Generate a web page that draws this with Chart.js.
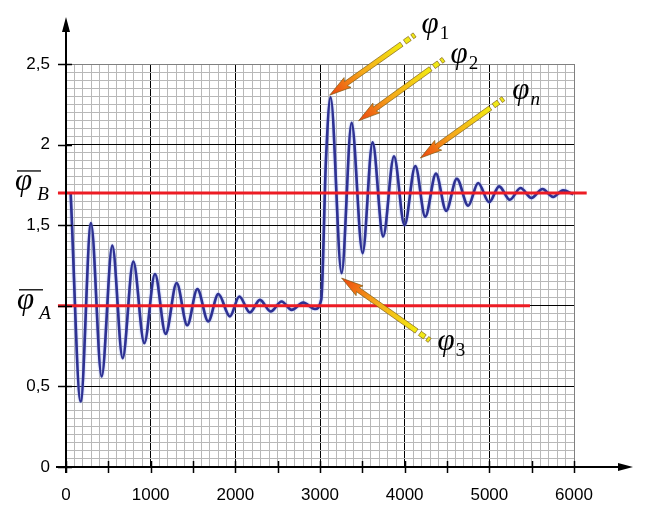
<!DOCTYPE html>
<html>
<head>
<meta charset="UTF-8">
<title>phi</title>
<script src="https://cdn.jsdelivr.net/npm/chart.js"></script>
<style>
html,body{margin:0;padding:0;background:#fff;}
#wrap{width:657px;height:525px;}
</style>
</head>
<body>
<div id="wrap"><canvas id="myChart" width="657" height="525"></canvas></div>
<script>
// curve: extreme points
const xValues = [55,173,295,421,547,669,795,925,1051,1177,1307,1432,1551,1680,1799,1936,2047,2172,2290,2417,2547,2665,2802,2940,3015,3070,3125,3255,3373,3503,3621,3746,3874,3998,4126,4243,4370,4490,4616,4750,4868,4998,5116,5242,5368,5498,5628,5753,5871,5990];
const yValues = [1.70,0.406,1.514,0.561,1.373,0.675,1.275,0.768,1.197,0.826,1.141,0.879,1.104,0.903,1.073,0.934,1.058,0.958,1.037,0.965,1.027,0.975,1.020,0.980,1.04,1.90,2.294,1.203,2.135,1.327,2.014,1.430,1.928,1.500,1.867,1.553,1.820,1.589,1.788,1.621,1.762,1.642,1.741,1.658,1.731,1.669,1.725,1.675,1.716,1.692];

// mean levels
const phiA = 1.0;
const phiB = 1.7;
const lineAx = [-95, 5480];
const lineBx = [-95, 6150];

const xTickValues = [0,1000,2000,3000,4000,5000,6000];
const xTickLabels = ['0','1000','2000','3000','4000','5000','6000'];
const yTickValues = [0,0.5,1.5,2,2.5];
const yTickLabels = ['0','0,5','1,5','2','2,5'];
const xMarkValues = [0,500,1000,1500,2000,2500,3000,3500,4000,4500,5000,5500,6000];
const yMarkValues = [0,0.5,1,1.5,2,2.5];

// arrows: index of the point they show, tip / tail / label offsets in px
const arrowNotes = [
  {idx:26, sub:'1', subItalic:false, tip:[-1,-2], tail:[72,-51], label:[92,-62]},
  {idx:28, sub:'2', subItalic:false, tip:[7,-2], tail:[72,-52], label:[92,-58]},
  {idx:34, sub:'n', subItalic:true, tip:[5,-8], tail:[70,-50], label:[92,-59]},
  {idx:27, sub:'3', subItalic:false, tip:[0,5], tail:[75,53], label:[96,72]}
];

function findLabel(vals, labels, v) {
  for (let i = 0; i < vals.length; i++) {
    if (Math.abs(vals[i] - v) < 1e-6) return labels[i];
  }
  return '';
}

function drawArrow(ctx, tx, ty, ex, ey) {
  const ang = Math.atan2(ty - ey, tx - ex);
  const len = Math.hypot(tx - ex, ty - ey);
  ctx.save();
  ctx.translate(ex, ey);
  ctx.rotate(ang);
  const g = ctx.createLinearGradient(0, 0, len, 0);
  g.addColorStop(0, '#f2ea10');
  g.addColorStop(0.55, '#f5a81a');
  g.addColorStop(1, '#ec4410');
  const hl = 20, hw = 6, sw = 2.5;
  ctx.beginPath();
  ctx.moveTo(0, -sw);
  ctx.lineTo(len - hl, -sw);
  ctx.lineTo(len - hl - 2, -hw);
  ctx.lineTo(len, 0);
  ctx.lineTo(len - hl - 2, hw);
  ctx.lineTo(len - hl, sw);
  ctx.lineTo(0, sw);
  ctx.closePath();
  ctx.fillStyle = g;
  ctx.fill();
  ctx.strokeStyle = '#7a5a10';
  ctx.lineWidth = 0.6;
  ctx.stroke();
  // dotted tail
  ctx.fillStyle = '#f0e818';
  [[-10, -4], [-16, -13]].forEach(function(d) {
    ctx.beginPath();
    ctx.rect(d[0], -sw, d[1] - d[0], sw * 2);
    ctx.fill();
    ctx.stroke();
  });
  ctx.restore();
}

function drawPhi(ctx, x, y, sub, subItalic, bar) {
  ctx.save();
  ctx.fillStyle = '#000';
  ctx.textAlign = 'left';
  ctx.textBaseline = 'alphabetic';
  ctx.font = 'italic 31px "Liberation Serif"';
  ctx.fillText('\u03c6', x, y);
  const w = ctx.measureText('\u03c6').width;
  ctx.font = (subItalic ? 'italic ' : '') + '19px "Liberation Serif"';
  if (bar) {
    ctx.fillText(sub, x + w + 5, y + 10);
    ctx.strokeStyle = '#000';
    ctx.lineWidth = 1.3;
    ctx.beginPath();
    ctx.moveTo(x + 2, y - 19);
    ctx.lineTo(x + 26, y - 19);
    ctx.stroke();
  } else {
    ctx.fillText(sub, x + w + 1, y + 6);
  }
  ctx.restore();
}

const decorPlugin = {
  id: 'decor',
  beforeDatasetDraw(chart, args) {
    if (args.index === 2) {
      chart.ctx.save();
      chart.ctx.shadowColor = 'rgba(130,150,230,0.9)';
      chart.ctx.shadowBlur = 2;
    }
  },
  afterDatasetDraw(chart, args) {
    if (args.index === 2) chart.ctx.restore();
  },
  afterDraw(chart) {
    const ctx = chart.ctx;
    const xs = chart.scales.x, ys = chart.scales.y;
    const x0 = xs.getPixelForValue(0), y0 = ys.getPixelForValue(0);
    const area = chart.chartArea;
    ctx.save();
    ctx.strokeStyle = '#000';
    ctx.fillStyle = '#000';
    // y axis with arrow
    ctx.lineWidth = 2;
    ctx.beginPath();
    ctx.moveTo(x0, y0 + 6);
    ctx.lineTo(x0, area.top - 40);
    ctx.stroke();
    ctx.beginPath();
    ctx.moveTo(x0 - 4, area.top - 32);
    ctx.lineTo(x0, area.top - 47);
    ctx.lineTo(x0 + 4, area.top - 32);
    ctx.closePath();
    ctx.fill();
    // x axis with arrow
    ctx.beginPath();
    ctx.moveTo(x0 - 10, y0);
    ctx.lineTo(area.right + 50, y0);
    ctx.stroke();
    ctx.beginPath();
    ctx.moveTo(area.right + 44, y0 - 4);
    ctx.lineTo(area.right + 59, y0);
    ctx.lineTo(area.right + 44, y0 + 4);
    ctx.closePath();
    ctx.fill();
    // tick marks
    ctx.lineWidth = 1.5;
    xMarkValues.forEach(function(v) {
      const p = Math.round(xs.getPixelForValue(v)) + 0.5;
      ctx.beginPath();
      ctx.moveTo(p, y0 - 6);
      ctx.lineTo(p, y0 + 6);
      ctx.stroke();
    });
    yMarkValues.forEach(function(v) {
      const p = Math.round(ys.getPixelForValue(v)) + 0.5;
      ctx.beginPath();
      ctx.moveTo(x0 - 8, p);
      ctx.lineTo(x0 + 6, p);
      ctx.stroke();
    });
    ctx.restore();

    // arrows with labels
    const meta = chart.getDatasetMeta(2);
    arrowNotes.forEach(function(a) {
      const pt = meta.data[a.idx];
      const tx = pt.x + a.tip[0], ty = pt.y + a.tip[1];
      drawArrow(ctx, tx, ty, tx + a.tail[0], ty + a.tail[1]);
      drawPhi(ctx, tx + a.label[0], ty + a.label[1], a.sub, a.subItalic, false);
    });

    // mean level labels on the left
    drawPhi(ctx, 15, ys.getPixelForValue(phiB) - 3, 'B', true, true);
    drawPhi(ctx, 17, ys.getPixelForValue(phiA) + 3, 'A', true, true);
  }
};

const ctx = document.getElementById('myChart');
new Chart(ctx, {
  type: 'line',
  data: {
    datasets: [{
      label: 'phiB',
      data: lineBx.map(function(x) { return {x: x, y: phiB}; }),
      borderColor: '#ed1c24',
      borderWidth: 3,
      pointRadius: 0,
      clip: false,
      order: 1
    }, {
      label: 'phiA',
      data: lineAx.map(function(x) { return {x: x, y: phiA}; }),
      borderColor: '#ed1c24',
      borderWidth: 3,
      pointRadius: 0,
      clip: false,
      order: 1
    }, {
      label: 'phi',
      data: xValues.map(function(x, i) { return {x: x, y: yValues[i]}; }),
      borderColor: '#2e3192',
      borderWidth: 2.6,
      pointRadius: 0,
      cubicInterpolationMode: 'monotone',
      order: 2
    }]
  },
  options: {
    responsive: false,
    animation: false,
    layout: {padding: {left: 0, right: 83, top: 64, bottom: 0}},
    plugins: {legend: {display: false}, tooltip: {enabled: false}},
    scales: {
      x: {
        type: 'linear',
        min: 0,
        max: 6000,
        afterFit: function(s) { s.height = 58; },
        border: {display: false},
        grid: {
          drawTicks: false,
          lineWidth: 1,
          color: function(c) {
            const v = c.tick.value;
            if (v === 6000) return '#808080';
            return v % 1000 === 0 ? '#000' : '#b8b8b8';
          }
        },
        ticks: {
          stepSize: 100,
          autoSkip: false,
          maxRotation: 0,
          padding: 18,
          color: '#000',
          font: {family: '"Liberation Sans", Arial', size: 17},
          callback: function(v) { return findLabel(xTickValues, xTickLabels, v); }
        }
      },
      y: {
        min: 0,
        max: 2.5,
        afterFit: function(s) { s.width = 66; },
        border: {display: false},
        grid: {
          drawTicks: false,
          lineWidth: 1,
          color: function(c) {
            const v = c.tick.value;
            if (Math.abs(v - 2.5) < 1e-6) return '#808080';
            return Math.abs(v * 2 - Math.round(v * 2)) < 1e-6 ? '#000' : '#b8b8b8';
          }
        },
        ticks: {
          stepSize: 0.05,
          autoSkip: false,
          padding: 16,
          color: '#000',
          font: {family: '"Liberation Sans", Arial', size: 17},
          callback: function(v) { return findLabel(yTickValues, yTickLabels, v); }
        }
      }
    }
  },
  plugins: [decorPlugin]
});
</script>
</body>
</html>
